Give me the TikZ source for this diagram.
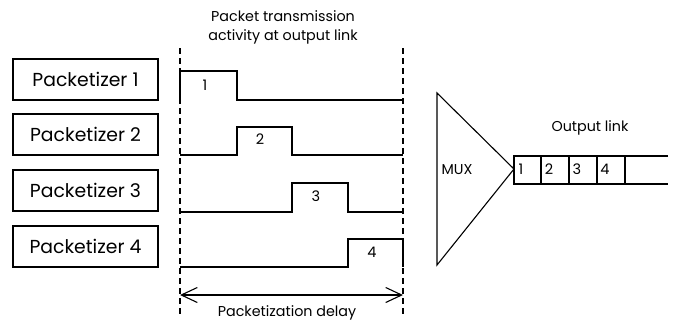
\documentclass[tikz,border=0pt]{standalone}
\usepackage{fontspec}
\setmainfont{Poppins}
\usetikzlibrary{arrows.meta}
\begin{document}
\begin{tikzpicture}[x=1pt,y=-1pt,line width=1.1pt,
  pbox/.style={draw,minimum width=145pt,minimum height=41pt,inner sep=0pt,font=\fontsize{18.8}{22}\selectfont},
  lbl/.style={font=\fontsize{14.3}{17}\selectfont,inner sep=0pt},
  plbl/.style={font=\fontsize{14.5}{16}\selectfont,inner sep=0pt},
  dline/.style={dashed,dash pattern=on 6pt off 4pt}]
\useasboundingbox (0,0) rectangle (677,324);
% packetizer boxes
\node[pbox] (p1) at (85.5,79.5) {Packetizer 1};
\node[pbox] (p2) at (85.5,134.5) {Packetizer 2};
\node[pbox] (p3) at (85.5,190.5) {Packetizer 3};
\node[pbox] (p4) at (85.5,246.5) {Packetizer 4};
% title
\node[lbl,align=center] (title) at (283,27) {Packet transmission\\[2pt]activity at output link};
% dashed lines
\coordinate (dlt) at (180,48); \coordinate (dlb) at (180,316);
\coordinate (drt) at (403,48); \coordinate (drb) at (403,316);
\draw[dline] (dlt) -- (dlb);
\draw[dline] (drt) -- (drb);
% signals
\draw (180,100) -- (180,71) -- (237,71) -- (237,100) -- (403,100);
\draw (180,155) -- (237,155) -- (237,127) -- (292,127) -- (292,155) -- (403,155);
\draw (180,212) -- (292,212) -- (292,183) -- (348,183) -- (348,212) -- (403,212);
\draw (180,267) -- (348,267) -- (348,239) -- (403,239) -- (403,267);
\node[plbl] (s1) at (205,85) {1};
\node[plbl] (s2) at (260,139) {2};
\node[plbl] (s3) at (316,196) {3};
\node[plbl] (s4) at (372,252) {4};
% delay arrow
\coordinate (al) at (180,295); \coordinate (ar) at (403,295);
\draw[{Straight Barb[length=16pt,width=15pt]}-{Straight Barb[length=16pt,width=15pt]}] (al) -- (ar);
\node[lbl] (delay) at (287,313) {Packetization delay};
% MUX
\coordinate (mt) at (437,93); \coordinate (mb) at (437,265); \coordinate (apex) at (514,169);
\draw (mt) -- (apex) -- (mb) -- cycle;
\node[lbl] (mux) at (457,170) {MUX};
% output link
\coordinate (ot) at (514,156); \coordinate (ob) at (514,184);
\coordinate (oe1) at (668,156); \coordinate (oe2) at (668,184);
\draw (oe1) -- (ot) -- (ob) -- (oe2);
\foreach \x in {541,569,597,625} \draw (\x,156) -- (\x,184);
\node[plbl] (o1) at (521,169) {1};
\node[plbl] (o2) at (549,169) {2};
\node[plbl] (o3) at (577,169) {3};
\node[plbl] (o4) at (605,169) {4};
\node[lbl] (olink) at (590,128) {Output link};
\end{tikzpicture}
\end{document}
